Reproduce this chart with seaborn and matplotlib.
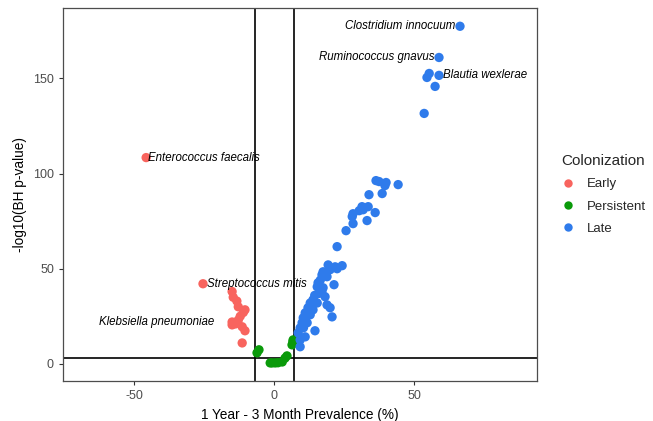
import matplotlib
matplotlib.use("Agg")
import matplotlib.pyplot as plt
import seaborn as sns
import pandas as pd

# ---- data ----
early_x = [-45.7, -25.4, -15.0, -14.6, -13.3, -12.8, -10.4, -11.0, -12.1, -12.8,
           -15.0, -15.0, -11.4, -10.4, -11.4, -13.8]
early_y = [108.4, 42.1, 38.0, 35.0, 33.0, 30.0, 28.4, 27.0, 25.0, 23.0,
           22.0, 20.5, 19.5, 17.4, 11.0, 21.0]

persistent_x = [-6.1, -5.4, -1.4, -0.7, 0.4, 1.4, 2.9, 3.9, 4.6, 6.4, 6.7, 6.8]
persistent_y = [5.8, 7.4, 0.5, 0.5, 0.5, 0.6, 1.0, 3.0, 4.2, 10.0, 11.6, 12.6]

late_x = [24.3, 21.8, 19.3, 20.0, 17.5, 17.1, 18.9, 21.4, 15.7, 15.4,
          17.5, 17.1, 18.2, 13.9, 12.9, 15.4, 18.9, 20.0, 12.1, 13.9,
          11.1, 12.9, 20.7, 10.4, 10.0, 11.8, 14.6, 9.3, 8.6, 11.1,
          9.3, 9.3, 14.5, 16.0, 13.0, 11.0, 10.5, 16.5, 22.5,
          22.5, 25.7, 28.2, 33.2, 27.9, 28.2, 30.4, 31.4, 31.8, 33.6,
          36.1, 33.9, 38.6, 36.4, 37.5, 40.0, 39.6, 44.3,
          66.4, 58.9, 55.4, 54.6, 58.9, 57.5, 53.6]
late_y = [51.6, 51.0, 52.0, 49.5, 48.4, 46.8, 45.8, 41.6, 42.6, 40.5,
          40.0, 38.0, 35.3, 33.7, 32.0, 32.0, 31.0, 29.5, 29.5, 28.4,
          26.8, 25.8, 24.7, 24.2, 21.6, 21.6, 17.4, 18.9, 16.3, 14.2,
          12.6, 9.0, 36.0, 37.0, 30.0, 23.0, 19.0, 44.0, 50.0,
          61.6, 70.0, 73.7, 75.3, 77.4, 78.9, 80.5, 82.6, 81.0, 82.6,
          79.5, 88.9, 89.5, 96.3, 95.8, 95.3, 93.7, 94.2,
          177.4, 161.0, 152.6, 150.5, 151.6, 145.8, 131.6]

groups = ["Early", "Persistent", "Late"]
colors = {"Early": "#F8645E", "Persistent": "#0A9A0A", "Late": "#2F7BEB"}

label_names = ["Enterococcus faecalis", "Streptococcus mitis", "Klebsiella pneumoniae",
               "Clostridium innocuum", "Ruminococcus gnavus", "Blautia wexlerae"]
label_x = [-45.7, -25.4, -15.0, 66.4, 58.9, 58.9]
label_y = [108.4, 42.1, 22.0, 177.4, 161.0, 151.6]
label_dx = [1, 3, -13, -3, -3, 3]

prev_cut = [-7, 7]
p_cut = 3

df = pd.DataFrame({
    "x": early_x + persistent_x + late_x,
    "y": early_y + persistent_y + late_y,
    "Colonization": ["Early"] * len(early_x) + ["Persistent"] * len(persistent_x)
                    + ["Late"] * len(late_x),
})

sns.set_style("white")
plt.rcParams["font.family"] = ["Liberation Sans", "DejaVu Sans"]
plt.rcParams["axes.unicode_minus"] = False

fig, ax = plt.subplots(figsize=(6.53, 4.21), dpi=100)
fig.subplots_adjust(left=63/653, right=537/653, top=1-8/421, bottom=1-381/421)

for v in prev_cut:
    ax.axvline(v, color="black", lw=1.2, zorder=1)
ax.axhline(p_cut, color="black", lw=1.2, zorder=1)

sns.scatterplot(data=df, x="x", y="y", hue="Colonization", hue_order=groups,
                palette=colors, s=45, linewidth=0, alpha=1, ax=ax, zorder=3)

for name, lx, ly, dx in zip(label_names, label_x, label_y, label_dx):
    ax.annotate(name, (lx, ly), xytext=(dx, 0), textcoords="offset points",
                ha="left" if dx > 0 else "right", va="center",
                fontsize=8.3, style="italic", color="black", zorder=4)

ax.set_xlim(-75.4, 93.9)
ax.set_ylim(-9, 187)
ax.set_xticks([-50, 0, 50])
ax.set_yticks([0, 50, 100, 150])
ax.set_xlabel("1 Year - 3 Month Prevalence (%)", fontsize=9.8, color="black")
ax.set_ylabel("-log10(BH p-value)", fontsize=9.8, color="black")
ax.tick_params(axis="both", which="major", length=3, width=0.8, color="#333333",
               labelsize=9, labelcolor="#4D4D4D", bottom=True, left=True)
for sp in ax.spines.values():
    sp.set_color("#4D4D4D")
    sp.set_linewidth(0.9)

sns.move_legend(ax, "center left", bbox_to_anchor=(1.027, 0.5), frameon=False,
                title="Colonization", fontsize=9.5, title_fontsize=11,
                markerscale=0.9, handlelength=1.0, handletextpad=0.9,
                labelspacing=0.75)
leg = ax.get_legend()
leg._legend_box.align = "left"

fig.savefig("out.png", dpi=100, facecolor="white")
